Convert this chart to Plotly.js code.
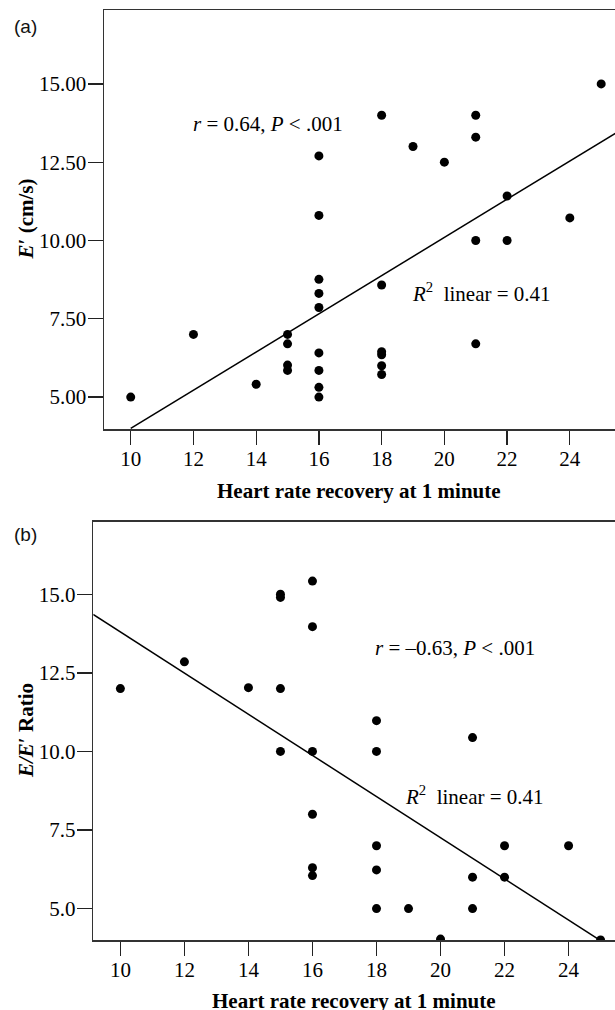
<!DOCTYPE html>
<html>
<head>
<meta charset="utf-8">
<script src="https://cdn.plot.ly/plotly-3.0.1.min.js"></script>
<style>
html,body{margin:0;padding:0;background:#fff;overflow:hidden;}
#chart{width:615px;height:1010px;}
</style>
</head>
<body>
<div id="chart"></div>
<script>
// Panel (a): E' vs heart rate recovery
const hrrA = [10,12,14,15,15,15,15,16,16,16,16,16,16,16,16,16,18,18,18,18,18,18,19,20,21,21,21,21,22,22,24,25];
const eA   = [5.0,7.0,5.41,7.0,6.7,6.02,5.85,12.7,10.8,8.76,8.31,7.86,6.41,5.85,5.31,5.0,14.0,8.58,6.45,6.35,6.0,5.72,13.0,12.5,14.0,13.3,10.0,6.7,11.42,10.0,10.72,15.0];
const fitAX = [10, 25.45];
const fitAY = [4.0, 13.42];

// Panel (b): E/E' ratio vs heart rate recovery
const hrrB = [10,12,14,15,15,15,15,16,16,16,16,16,16,18,18,18,18,18,19,20,21,21,21,22,22,24,25];
const ratioB = [12.0,12.85,12.03,15.0,14.9,12.0,10.0,15.42,13.97,10.0,8.0,6.3,6.05,10.98,10.0,7.0,6.23,5.0,5.0,4.03,10.44,6.0,5.0,7.0,6.0,7.0,4.0];
const fitBX = [9.15, 25.0];
const fitBY = [14.36, 3.98];

const xTicks = [10,12,14,16,18,20,22,24];
const yTicksA = [5,7.5,10,12.5,15];
const yTicksB = [5,7.5,10,12.5,15];

const serif = "Liberation Serif, Times New Roman, serif";
const H = 1010;
const py = p => 1 - p / H;

const marker = {color:'#000', size:9};
const traces = [
  {x:hrrA, y:eA, mode:'markers', type:'scatter', marker:marker, xaxis:'x', yaxis:'y'},
  {x:fitAX, y:fitAY, mode:'lines', type:'scatter', line:{color:'#000', width:1.5}, xaxis:'x', yaxis:'y'},
  {x:hrrB, y:ratioB, mode:'markers', type:'scatter', marker:marker, xaxis:'x2', yaxis:'y2'},
  {x:fitBX, y:fitBY, mode:'lines', type:'scatter', line:{color:'#000', width:1.5}, xaxis:'x2', yaxis:'y2'}
];

const xCommon = {
  tickvals:xTicks, ticks:'outside', ticklen:14, tickwidth:1.3, tickcolor:'#222',
  ticklabelstandoff:-4,
  showline:true, linecolor:'#333', linewidth:1.5, mirror:true,
  showgrid:false, zeroline:false, tickfont:{family:serif, size:21, color:'#000'},
  fixedrange:true
};
const yCommon = {
  ticks:'outside', ticklen:15, tickwidth:1.3, tickcolor:'#222',
  ticklabelstandoff:-3,
  showline:true, linecolor:'#333', linewidth:1.5,
  showgrid:false, zeroline:false, tickfont:{family:serif, size:21, color:'#000'},
  fixedrange:true
};

function ann(px, pyv, text, opts) {
  return Object.assign({xref:'paper', yref:'paper', x:px/615, y:py(pyv), text:text,
    showarrow:false, xanchor:'center', yanchor:'middle',
    font:{family:serif, size:21, color:'#000'}}, opts || {});
}
const sans = {family:'Liberation Sans, Arial, sans-serif', size:19, color:'#111'};

const layout = {
  width:615, height:1010,
  margin:{l:0, r:0, t:0, b:0},
  paper_bgcolor:'#fff', plot_bgcolor:'#fff',
  showlegend:false,
  xaxis: Object.assign({}, xCommon, {domain:[104/615, 1], range:[9.148, 25.44], anchor:'y'}),
  yaxis: Object.assign({}, yCommon, {domain:[py(429), py(10)], range:[3.98, 17.36], tickvals:yTicksA, tickformat:'.2f', anchor:'x'}),
  xaxis2: Object.assign({}, xCommon, {domain:[93.3/615, 1], range:[9.154, 25.45], anchor:'y2'}),
  yaxis2: Object.assign({}, yCommon, {domain:[py(940), py(521.7)], range:[4.0, 17.31], tickvals:yTicksB, tickformat:'.1f', anchor:'x2'}),
  annotations:[
    ann(25, 26, '(a)', {font:sans}),
    ann(25, 534, '(b)', {font:sans}),
    ann(268, 124, '<i>r</i> = 0.64, <i>P</i> &lt; .001'),
    ann(481, 292, '<i>R</i><sup>2</sup>  linear = 0.41'),
    ann(455, 648, '<i>r</i> = \u20130.63, <i>P</i> &lt; .001'),
    ann(474, 795, '<i>R</i><sup>2</sup>  linear = 0.41'),
    ann(359, 491, '<b>Heart rate recovery at 1 minute</b>'),
    ann(354, 1001, '<b>Heart rate recovery at 1 minute</b>'),
    ann(26, 219.5, '<b><i>E</i>\u2032 (cm/s)</b>', {textangle:-90}),
    ann(26, 731, '<b><i>E/E</i>\u2032 Ratio</b>', {textangle:-90})
  ]
};

Plotly.newPlot('chart', traces, layout, {displayModeBar:false, staticPlot:true});
</script>
</body>
</html>
